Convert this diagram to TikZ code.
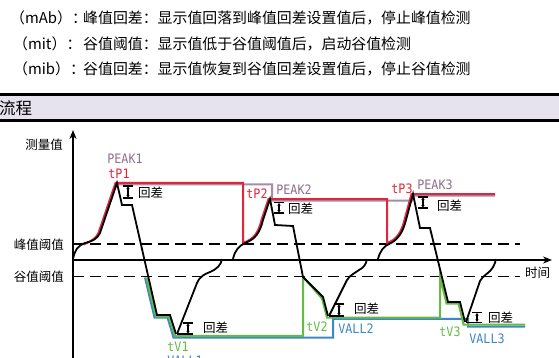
\documentclass[tikz,border=0pt]{standalone}
\usepackage{fontspec}
\newfontfamily\cjk{Noto Sans CJK SC}
\newfontfamily\labf[FakeStretch=0.9]{DejaVu Sans Mono}
\usetikzlibrary{arrows.meta}
\definecolor{cred}{HTML}{E0263C}
\definecolor{cpur}{HTML}{A68BAA}
\definecolor{cpurt}{HTML}{8E6E8E}
\definecolor{cgrn}{HTML}{66BB44}
\definecolor{cblu}{HTML}{3F86C6}
\definecolor{chdr}{HTML}{E6E2EE}
\newcommand\hysmark[3]{%
  \draw[mk] (#1-5,#2) -- (#1+5,#2);
  \draw[mk] (#1-5,#3) -- (#1+5,#3);
  \draw[mk,{Stealth[length=2.5pt,width=3.5pt]}-{Stealth[length=2.5pt,width=3.5pt]}] (#1,#2+0.6) -- (#1,#3-0.6);}
\begin{document}
\begin{tikzpicture}[x=1pt,y=-1pt,
  toptxt/.style={font=\cjk\fontsize{14.9}{18}\selectfont,inner sep=0pt},
  cjks/.style={font=\cjk\fontsize{12.5}{14}\selectfont,inner sep=0pt},
  lab/.style={font=\labf\fontsize{13}{15}\selectfont,inner sep=0pt},
  axis/.style={line width=1.6pt,black},
  thr/.style={line width=1.8pt,black,dash pattern=on 11pt off 6pt},
  meas/.style={line width=1.8pt,black,line join=miter},
  mk/.style={line width=1.2pt,black},
  redl/.style={line width=2pt,cred},
  purl/.style={line width=2pt,cpur},
  grnl/.style={line width=2pt,cgrn},
  blul/.style={line width=2pt,cblu}]
\useasboundingbox (0,0) rectangle (559,358);
\fill[white] (0,0) rectangle (559,358);
% top text
\node[toptxt,anchor=base west] (k1) at (10,23.7) {（mAb）：};
\node[toptxt,anchor=base west] (t1) at (83,23.7) {峰值回差：显示值回落到峰值回差设置值后，停止峰值检测};
\node[toptxt,anchor=base west] (k2) at (13,49.7) {（mit）：};
\node[toptxt,anchor=base west] (t2) at (83,49.7) {谷值阈值：显示值低于谷值阈值后，启动谷值检测};
\node[toptxt,anchor=base west] (k3) at (13,74.7) {（mib）：};
\node[toptxt,anchor=base west] (t3) at (83,74.7) {谷值回差：显示值恢复到谷值回差设置值后，停止谷值检测};
% header bar
\fill[chdr] (0,94.5) rectangle (559,120.5);
\draw[line width=3pt] (0,94.5) -- (559,94.5);
\draw[line width=3pt] (0,120.5) -- (559,120.5);
\node[font=\cjk\fontsize{16.5}{18}\selectfont,inner sep=0pt,anchor=west] (hd) at (-1,108) {流程};
% thresholds
\draw[thr] (73,244.3) -- (520,244.3);
\draw[thr] (73,276.5) -- (520,276.5);
% axes
\draw[axis,-{Stealth[length=9pt,width=7pt]}] (73,358) -- (73,130);
\draw[axis,-{Stealth[length=9pt,width=7pt]}] (73,260) -- (552,260);
\node[cjks,anchor=east] (ly) at (63,145) {测量值};
\node[cjks,anchor=east] (lpk) at (64,244.3) {峰值阈值};
\node[cjks,anchor=east] (lvl) at (64,276.5) {谷值阈值};
\node[cjks,anchor=west] (lt) at (525,273) {时间};
% peak hold (purple)
\draw[purl] (117,184.5) -- (272,184.5) -- (272,200.5) -- (412,200.5) -- (414,195.5) -- (495,195.5);
% peak trace (red)
\draw[redl] (83.5,244.5) .. controls (91.5,241) and (95.5,239) .. (98.5,233) -- (115.5,183) -- (243,183) -- (243,243)
  .. controls (254.5,239) and (258.5,232) .. (261.5,220) -- (268.5,199) -- (387,199) -- (387,243)
  .. controls (396.5,240) and (401.5,232) .. (404.5,220) -- (411.5,194) -- (495,194);
% valley hold (blue)
\draw[blul] (145,277.5) -- (154.5,317.5) -- (167.5,317.5) -- (173.5,337.5) -- (333,337.5) -- (333,318.8) -- (468,318.8) -- (468,326.5) -- (525,326.5);
% valley trace (green)
\draw[grnl] (146.5,277.5) -- (156,316.5) -- (169,316.5) -- (175,335.8) -- (303,335.8) -- (303,277) -- (322,298.5) -- (327,317.5) -- (440,317.5) -- (440,277) -- (446.5,303.5) -- (458.5,303.5) -- (463.5,324.5) -- (525,324.5);
% measurement (black)
\draw[meas] (73,259) .. controls (75,249) and (79,245) .. (85,243) .. controls (93,241) and (97,239) .. (100,233) -- (117,183) -- (122,205) -- (132,205) -- (157,315) -- (170,315) -- (176,334);
\draw[meas] (177,334) -- (197,283) .. controls (200,276) and (205,274) .. (210,272) .. controls (217,269) and (221,265) .. (222,259);
\draw[meas] (233,259) .. controls (235,250) and (239,246) .. (245,243) .. controls (256,239) and (260,232) .. (263,220) -- (270,199) -- (275,225) -- (293,226) -- (303,277) -- (323,297) -- (328,316);
\draw[meas] (329,316) -- (347,280) .. controls (350,275) and (355,273) .. (359,270) .. controls (363,268) and (366,265) .. (367,259);
\draw[meas] (378,259) .. controls (380,251) and (384,246) .. (389,244) .. controls (398,240) and (403,232) .. (406,220) -- (413,194) -- (420,228) -- (430,228) -- (448,302) -- (460,302) -- (465,322);
\draw[meas] (466,322) -- (480,281) .. controls (483,276) and (487,274) .. (490,271) .. controls (493,268) and (495,264) .. (496,259);
% hysteresis markers
\hysmark{128}{186}{198}
\hysmark{279}{202.5}{213}
\hysmark{423}{197}{208}
\draw[mk] (177,334) -- (193,334);
\hysmark{188}{323}{334}
\draw[mk] (329,316) -- (344,316);
\hysmark{339}{304}{316}
\draw[mk] (466,322.5) -- (482,322.5);
\hysmark{477}{312.5}{322.5}
% hysteresis labels
\node[cjks,anchor=west] (h1) at (138,193) {回差};
\node[cjks,anchor=west] (h2) at (288,209) {回差};
\node[cjks,anchor=west] (h3) at (437,206) {回差};
\node[cjks,anchor=west] (h4) at (203,328) {回差};
\node[cjks,anchor=west] (h5) at (354,309) {回差};
\node[cjks,anchor=west] (h6) at (488,318) {回差};
% trace labels
\node[lab,text=cpurt] (pk1) at (125,159) {PEAK1};
\node[lab,text=cred] (tp1) at (119,174) {tP1};
\node[lab,text=cred] (tp2) at (257,194) {tP2};
\node[lab,text=cpurt] (pk2) at (294,190) {PEAK2};
\node[lab,text=cred] (tp3) at (402,189) {tP3};
\node[lab,text=cpurt] (pk3) at (435,185) {PEAK3};
\node[lab,text=cgrn] (tv1) at (178,347) {tV1};
\node[lab,text=cblu] (vl1) at (185,361) {VALL1};
\node[lab,text=cgrn] (tv2) at (317,327) {tV2};
\node[lab,text=cblu] (vl2) at (356,329) {VALL2};
\node[lab,text=cgrn] (tv3) at (450,332) {tV3};
\node[lab,text=cblu] (vl3) at (487,339) {VALL3};
\end{tikzpicture}
\end{document}
